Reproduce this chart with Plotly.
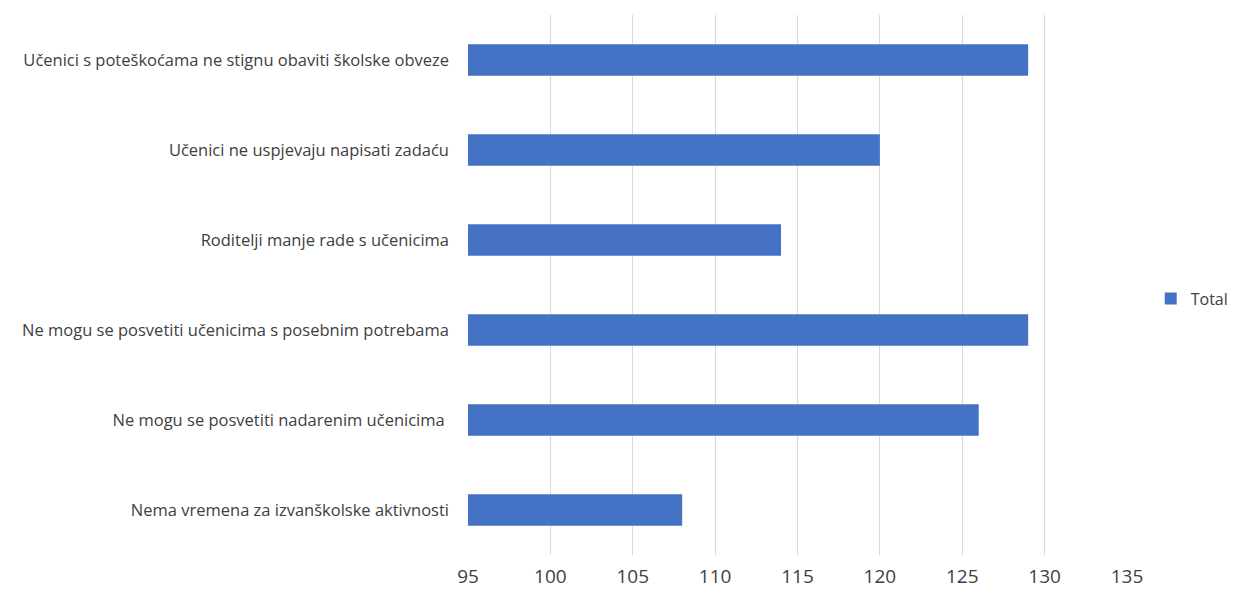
import plotly.graph_objects as go

categories = [
    "Učenici s poteškoćama ne stignu obaviti školske obveze",
    "Učenici ne uspjevaju napisati zadaću",
    "Roditelji manje rade s učenicima",
    "Ne mogu se posvetiti učenicima s posebnim potrebama",
    "Ne mogu se posvetiti nadarenim učenicima ",
    "Nema vremena za izvanškolske aktivnosti",
]
values = [129, 120, 114, 129, 126, 108]
axis_min = 95
tick_vals = [95, 100, 105, 110, 115, 120, 125, 130, 135]

fig = go.Figure()
fig.add_trace(go.Bar(
    y=categories, x=[v - axis_min for v in values], base=axis_min,
    orientation="h", name="Total",
    marker=dict(color="#4472c4", line=dict(width=0)),
    width=0.35,
))

fig.update_layout(
    width=1248, height=598,
    margin=dict(l=460, r=129, t=7, b=51, autoexpand=False),
    plot_bgcolor="white", paper_bgcolor="white",
    font=dict(family="Open Sans", size=16, color="#404040"),
    showlegend=True,
    legend=dict(x=1.036, y=0.475, xanchor="left", yanchor="middle",
                font=dict(size=16, color="#404040"), itemwidth=30),
    xaxis=dict(range=[95, 135], tickvals=tick_vals, showgrid=True,
               gridcolor="#d9d9d9", gridwidth=1, zeroline=False,
               showline=False, ticks="", ticklabelstandoff=8,
               tickfont=dict(size=19, color="#404040")),
    yaxis=dict(categoryorder="array", categoryarray=categories[::-1],
               showgrid=False, ticks="", ticklabelstandoff=18,
               tickfont=dict(size=16.5, color="#404040")),
)
fig.write_html("out.html")
